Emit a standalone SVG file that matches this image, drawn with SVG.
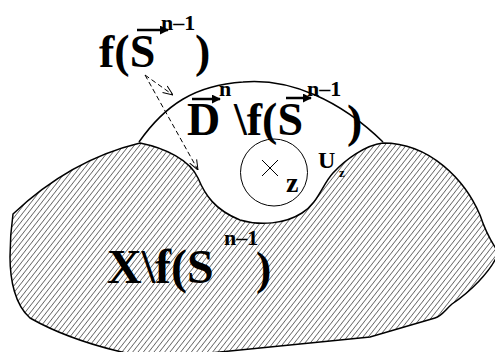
<svg xmlns="http://www.w3.org/2000/svg" width="495" height="352" viewBox="0 0 495 352">
<style>
.t{font-family:"Liberation Serif","Times New Roman",serif;font-weight:bold;fill:#000}
.big{font-size:46px}
.sup{font-size:22px}
.outline{fill:none;stroke:#000;stroke-width:1.5}
.dash{fill:none;stroke:#000;stroke-width:1;stroke-dasharray:5,3}
.vec{stroke:#000;stroke-width:2.5;fill:none}
</style>
<defs>
<pattern id="hatch" width="4.2" height="4.2" patternUnits="userSpaceOnUse" patternTransform="rotate(-52)">
<line x1="0" y1="2.1" x2="4.2" y2="2.1" stroke="#555" stroke-width="0.75"/>
</pattern>
<marker id="open" viewBox="0 0 10 10" refX="10" refY="5" markerWidth="10" markerHeight="10" markerUnits="userSpaceOnUse" orient="auto">
<path d="M0,1 L10,5 L0,9" fill="none" stroke="#000" stroke-width="1"/>
</marker>
<marker id="vhead" viewBox="0 0 10 10" refX="9" refY="5" markerWidth="9" markerHeight="9" markerUnits="userSpaceOnUse" orient="auto">
<path d="M0,0 L10,5 L0,10 Z" fill="#000"/>
</marker>
</defs>
<rect width="495" height="352" fill="#fff"/>

<g id="region-X">
<path d="M13,214 Q70,160 140,143 C165,148 190,160 198,178 C205,195 215,210 240,220 C260,226 285,224 302,213 C318,203 322,185 333,173 C345,160 365,145 383,143 C430,143 465,180 480,215 C485,230 490,240 497,250 L497,256 C490,272 470,292 452,304 C445,310 442,316 435,318 L370,337 L200,354 L140,356 C100,348 60,335 30,318 C15,305 10,280 10,257 C10,240 11,228 13,214 Z" fill="url(#hatch)" stroke="#000" stroke-width="1.5"/>
</g>

<g id="region-D">
<path class="outline" d="M139,142 C165,105 195,85 243,82 C290,78 340,100 383,142"/>
</g>

<g id="circle-U">
<circle cx="274" cy="172.5" r="33.5" fill="none" stroke="#000" stroke-width="1"/>
<path d="M262,160 L278,176 M262,176 L278,160" stroke="#000" stroke-width="1"/>
<text class="t" x="286" y="192" font-size="28">z</text>
<text class="t" x="318" y="168" font-size="24">U</text>
<text class="t" x="339" y="177" font-size="13">z</text>
</g>

<g id="label-fS">
<text class="t big" x="99" y="67">f(S</text>
<text class="t big" x="195" y="67">)</text>
<text class="t sup" x="161" y="30">n–1</text>
<line class="vec" x1="137" y1="30" x2="168" y2="30" marker-end="url(#vhead)"/>
</g>

<g id="label-D">
<text class="t big" x="187" y="135">D</text>
<line class="vec" x1="192" y1="99" x2="220" y2="99" marker-end="url(#vhead)"/>
<text class="t sup" x="219" y="96">n</text>
<text class="t big" x="234" y="135">\f(S</text>
<line class="vec" x1="286" y1="98" x2="311" y2="98" marker-end="url(#vhead)"/>
<text class="t sup" x="307" y="96">n–1</text>
<text class="t big" x="347" y="137">)</text>
</g>

<g id="label-X">
<text class="t" x="107" y="283" font-size="48">X\f(S</text>
<text class="t sup" x="224" y="245">n–1</text>
<text class="t big" x="256" y="284">)</text>
</g>

<g id="connectors">
<line class="dash" x1="145" y1="75" x2="173" y2="95" marker-end="url(#open)"/>
<line class="dash" x1="145" y1="75" x2="198" y2="170" marker-end="url(#open)"/>
</g>
</svg>
